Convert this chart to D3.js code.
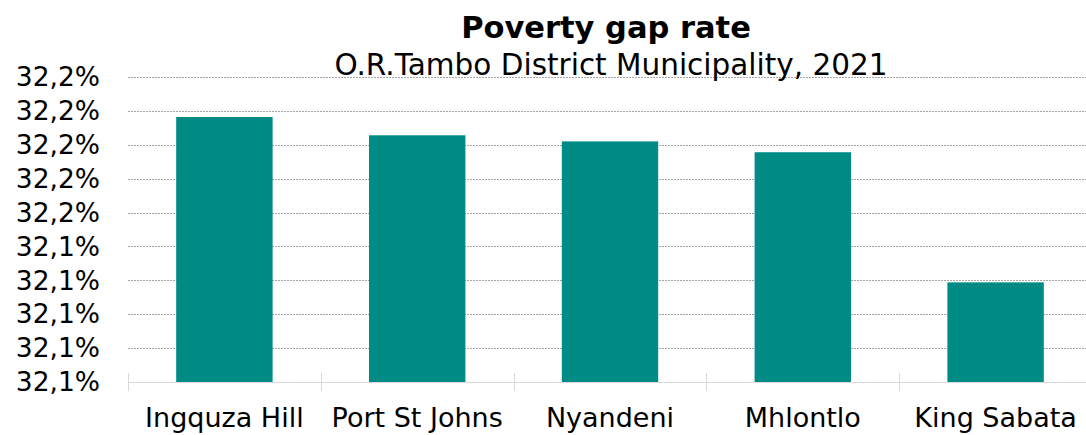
<!DOCTYPE html>
<html>
<head>
<meta charset="utf-8">
<script src="https://cdn.jsdelivr.net/npm/d3@7"></script>
<style>
  html, body { margin: 0; padding: 0; background: #fff; }
  svg { display: block; font-family: "DejaVu Sans", Verdana, sans-serif; }
</style>
</head>
<body>
<svg id="chart" width="1086" height="435"></svg>
<script>
// Poverty gap rate by local municipality, O.R.Tambo District, 2021 (percent)
const categories = ["Ingquza Hill", "Port St Johns", "Nyandeni", "Mhlontlo", "King Sabata"];
const values = [32.1782, 32.1728, 32.1710, 32.1678, 32.1294];
const yTicks = [32.10, 32.11, 32.12, 32.13, 32.14, 32.15, 32.16, 32.17, 32.18, 32.19];

const W = 1086, H = 435;
const margin = { left: 128, right: -6, top: 77, bottom: 53 };
const plotRight = W - margin.right;
const plotBottom = H - margin.bottom;

const svg = d3.select("#chart");

const x = d3.scaleBand()
  .domain(categories)
  .range([margin.left, plotRight])
  .paddingInner(0.5)
  .paddingOuter(0.25);

const y = d3.scaleLinear()
  .domain([32.10, 32.19])
  .range([plotBottom, margin.top]);

const fmt = v => (Math.round(v * 10 + 1e-9) / 10).toFixed(1).replace(".", ",") + "%";

// dotted horizontal gridlines
svg.append("g")
  .selectAll("line")
  .data(yTicks.slice(1))
  .join("line")
  .attr("x1", margin.left)
  .attr("x2", W)
  .attr("y1", d => Math.round(y(d)) + 0.5)
  .attr("y2", d => Math.round(y(d)) + 0.5)
  .attr("stroke", "#a6a6a6")
  .attr("stroke-width", 1)
  .attr("stroke-dasharray", "2,1");

// y-axis labels
svg.append("g")
  .selectAll("text")
  .data(yTicks)
  .join("text")
  .attr("x", 100)
  .attr("y", d => y(d))
  .attr("dy", "0.35em")
  .attr("text-anchor", "end")
  .attr("font-size", 26.5)
  .attr("fill", "#000")
  .text(fmt);

// bars
svg.append("g")
  .selectAll("rect")
  .data(categories)
  .join("rect")
  .attr("x", d => x(d))
  .attr("width", x.bandwidth())
  .attr("y", (d, i) => y(values[i]))
  .attr("height", (d, i) => plotBottom - y(values[i]))
  .attr("fill", "#008C85");

// category axis line with band separators
const bandStep = x.step();
const boundaries = d3.range(categories.length + 1).map(i => margin.left + i * bandStep);
svg.append("line")
  .attr("x1", margin.left).attr("x2", W)
  .attr("y1", Math.round(plotBottom) + 0.5).attr("y2", Math.round(plotBottom) + 0.5)
  .attr("stroke", "#d9d9d9").attr("stroke-width", 1);
svg.append("g")
  .selectAll("line")
  .data(boundaries)
  .join("line")
  .attr("x1", d => Math.round(d) + 0.5).attr("x2", d => Math.round(d) + 0.5)
  .attr("y1", plotBottom - 9).attr("y2", plotBottom + 9)
  .attr("stroke", "#d9d9d9").attr("stroke-width", 1);

// category labels
svg.append("g")
  .selectAll("text")
  .data(categories)
  .join("text")
  .attr("x", d => x(d) + x.bandwidth() / 2)
  .attr("y", 427)
  .attr("text-anchor", "middle")
  .attr("font-size", 27)
  .attr("fill", "#000")
  .text(d => d);

// titles
const cx = (margin.left + margin.left + categories.length * bandStep) / 2;
svg.append("text")
  .attr("x", cx - 4).attr("y", 38)
  .attr("text-anchor", "middle")
  .attr("font-size", 30.5).attr("font-weight", "bold")
  .text("Poverty gap rate");
svg.append("text")
  .attr("x", cx + 1).attr("y", 75)
  .attr("text-anchor", "middle")
  .attr("font-size", 29.5)
  .text("O.R.Tambo District Municipality, 2021");
</script>
</body>
</html>
